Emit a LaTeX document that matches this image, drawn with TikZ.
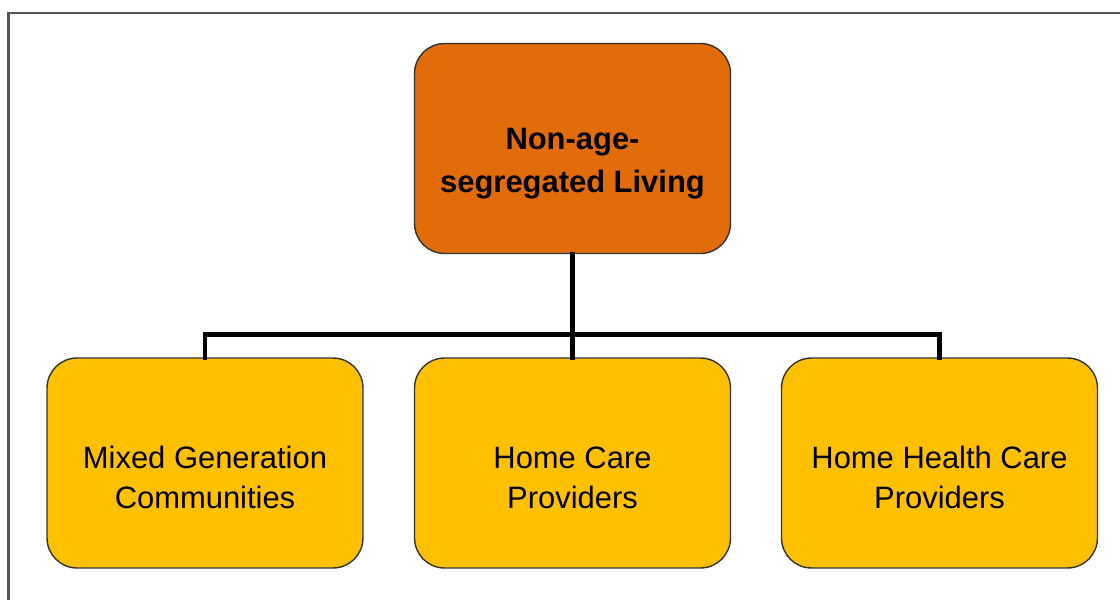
\documentclass[tikz,border=0pt]{standalone}
\usepackage{fontspec}
\setmainfont{Liberation Sans}
\usepackage{tikz}
\usetikzlibrary{positioning}
\definecolor{headorange}{RGB}{226,107,10}
\definecolor{leafyellow}{RGB}{255,192,0}
\definecolor{framegray}{RGB}{85,85,85}
% strut that pushes the two text lines a little lower in the box
\newcommand{\lowtext}{\rule{0pt}{29pt}}
\tikzset{
  box/.style={draw=black!80,line width=0.8pt,rounded corners=0.6cm,
    minimum width=6.32cm,minimum height=4.2cm,align=center,
    font=\fontsize{17.6}{22.7}\selectfont},
  headbox/.style={box,fill=headorange,font=\bfseries\fontsize{17.6}{24.4}\selectfont},
  leafbox/.style={box,fill=leafyellow},
  link/.style={line width=2.8pt,line cap=rect}
}
\begin{document}
\begin{tikzpicture}[x=0.02cm,y=-0.02cm]
    \useasboundingbox (0,0) rectangle (1120,599);
    \draw[framegray,line width=1.6pt](1130,13)--(8.5,13)--(8.5,610);
    \node[headbox](living) at (572.5,148.5){\lowtext Non-age-\\segregated Living};
    \node[leafbox](mixed) at (205,463){\lowtext Mixed Generation\\Communities};
    \node[leafbox](homecare) at (572.5,463){\lowtext Home Care\\Providers};
    \node[leafbox](health) at (939.5,463){\lowtext Home Health Care\\Providers};
    \draw[link](living.south)--(homecare.north);
    \draw[link](mixed.north)--++(0,-23)-|(health.north);
\end{tikzpicture}
\end{document}
